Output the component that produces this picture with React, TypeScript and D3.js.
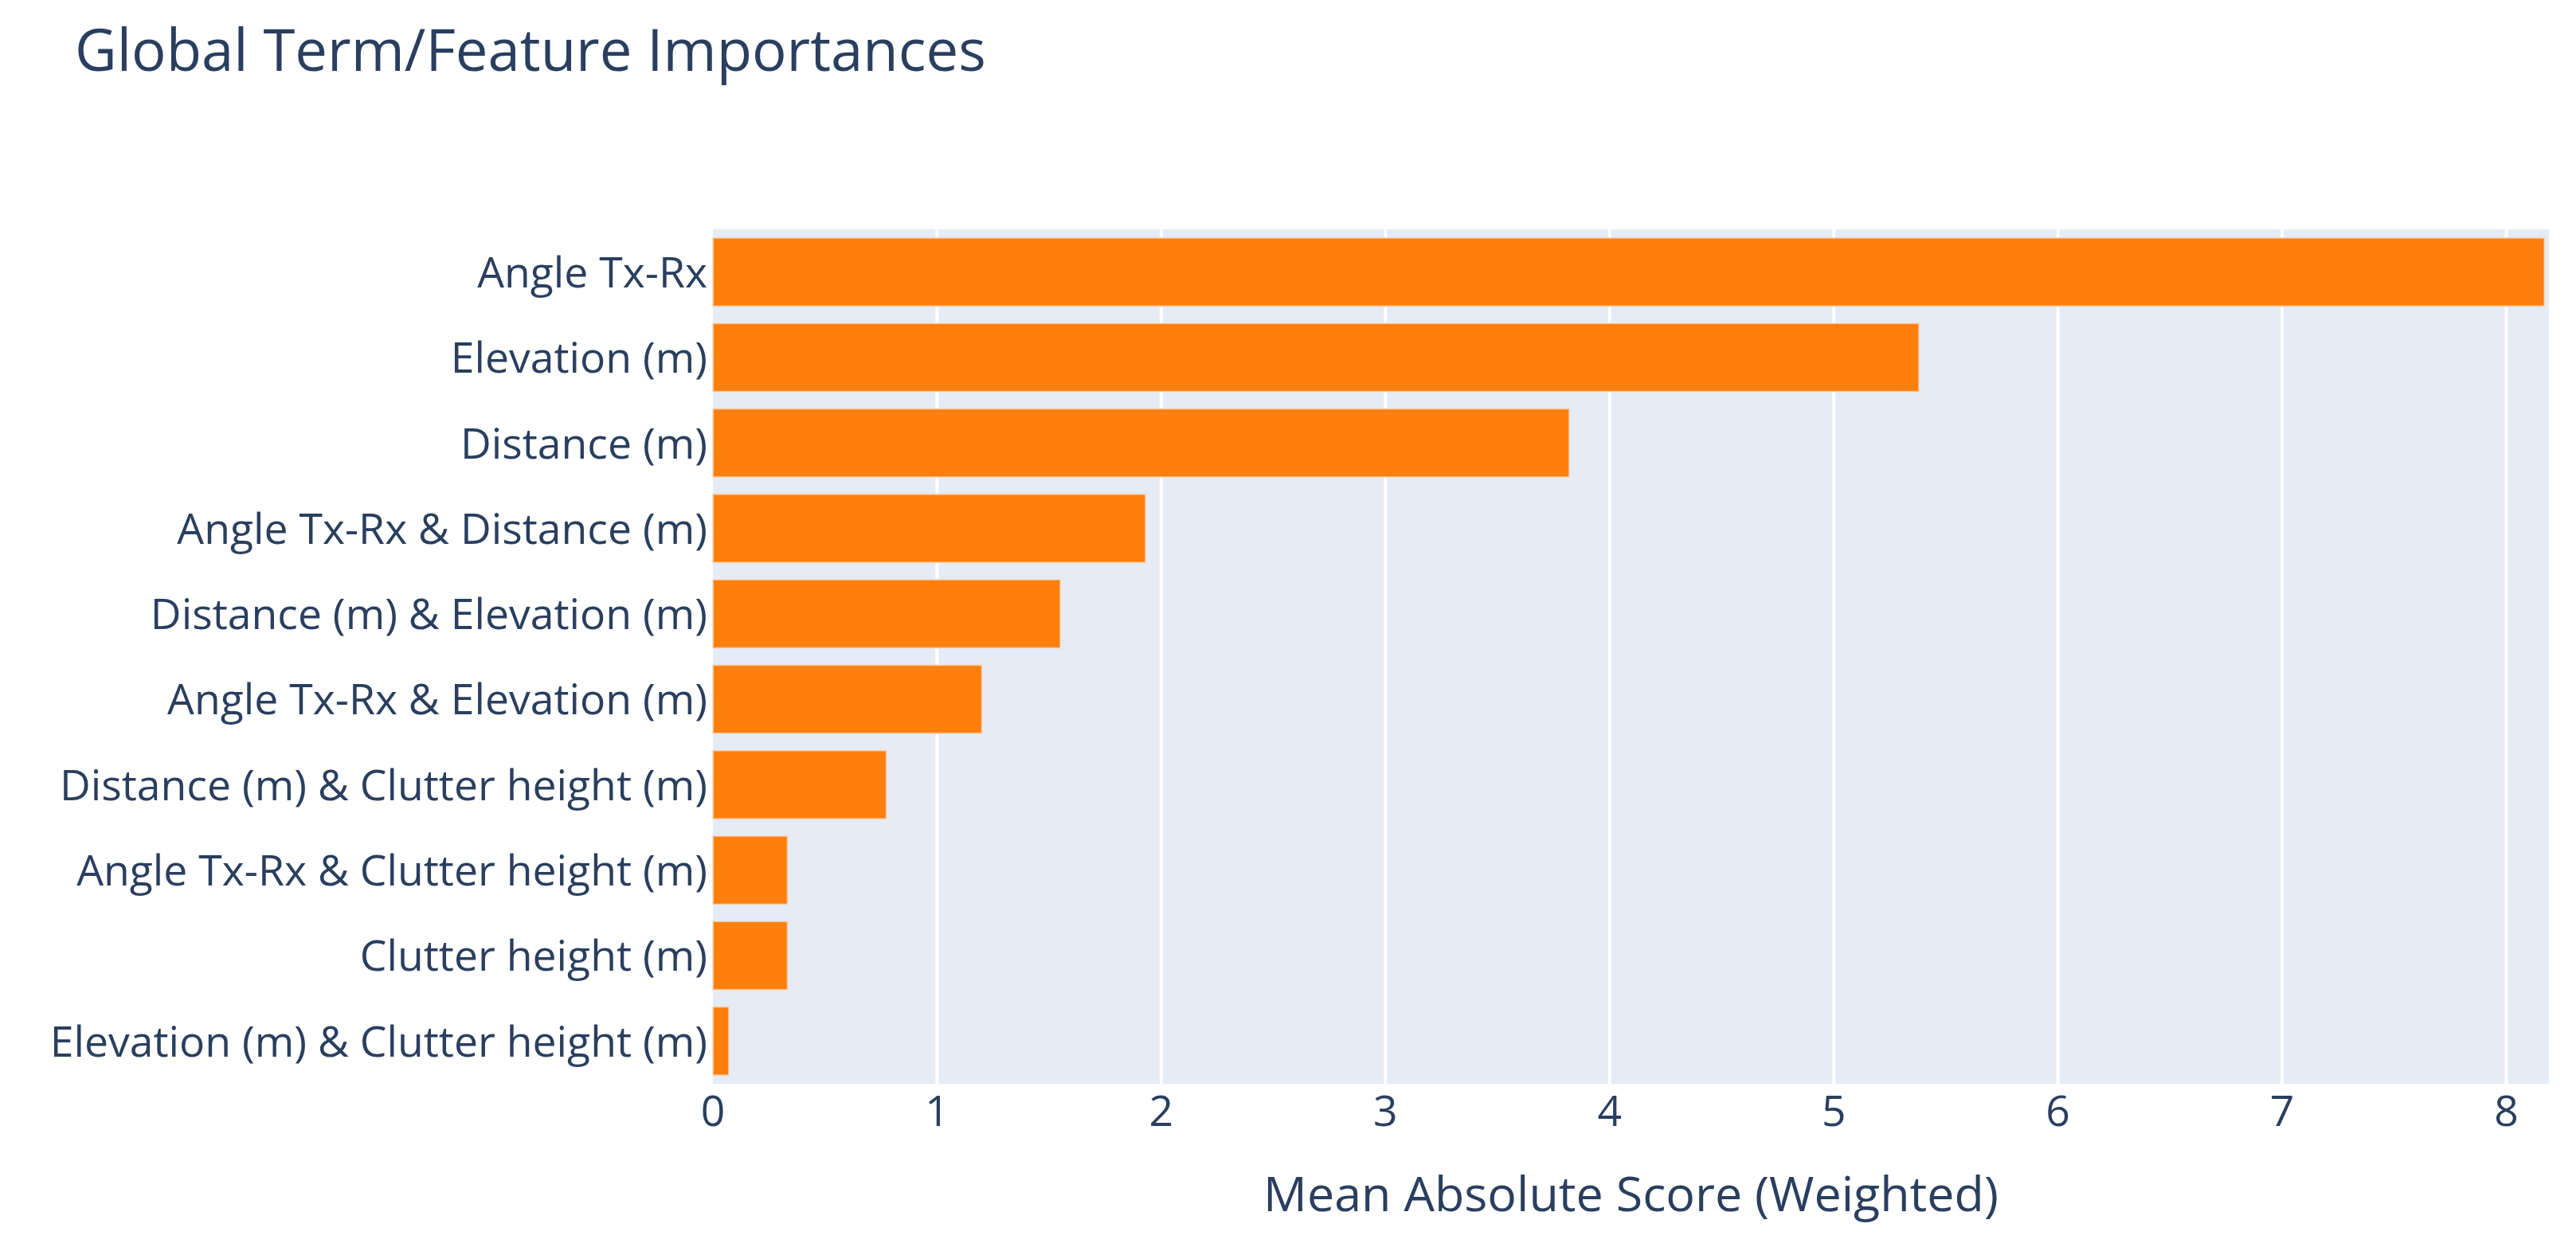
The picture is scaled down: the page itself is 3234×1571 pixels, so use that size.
import React from "react";
import * as d3 from "d3";

const categories: string[] = [
  "Angle Tx-Rx",
  "Elevation (m)",
  "Distance (m)",
  "Angle Tx-Rx & Distance (m)",
  "Distance (m) & Elevation (m)",
  "Angle Tx-Rx & Elevation (m)",
  "Distance (m) & Clutter height (m)",
  "Angle Tx-Rx & Clutter height (m)",
  "Clutter height (m)",
  "Elevation (m) & Clutter height (m)",
];
const values: number[] = [8.17, 5.38, 3.82, 1.93, 1.55, 1.2, 0.774, 0.333, 0.333, 0.071];
const xTicks: number[] = [0, 1, 2, 3, 4, 5, 6, 7, 8];
const xMax = 8.19;
const titleText = "Global Term/Feature Importances";
const xTitle = "Mean Absolute Score (Weighted)";

const W = 3234;
const H = 1571;
const plot = { left: 895, right: 3200, top: 288, bottom: 1361 };
const FONT = '"Open Sans", verdana, arial, sans-serif';
const TXT = "#2a3f5f";

export default function App() {
  const x = d3.scaleLinear().domain([0, xMax]).range([plot.left, plot.right]);
  const y = d3
    .scaleBand<string>()
    .domain(categories)
    .range([plot.top, plot.bottom])
    .paddingInner(0.2)
    .paddingOuter(0.1);

  return (
    <svg
      width={W}
      height={H}
      style={{ position: "absolute", left: 0, top: 0, background: "#fff" }}
      fontFamily={FONT}
    >
      <rect x={0} y={0} width={W} height={H} fill="#fff" />
      <rect
        x={plot.left}
        y={plot.top}
        width={plot.right - plot.left}
        height={plot.bottom - plot.top}
        fill="#E5ECF6"
      />
      {xTicks
        .filter((t) => t > 0)
        .map((t) => (
          <line
            key={"g" + t}
            x1={x(t)}
            x2={x(t)}
            y1={plot.top}
            y2={plot.bottom}
            stroke="#ffffff"
            strokeWidth={4}
          />
        ))}
      {categories.map((c, i) => (
        <rect
          key={"b" + c}
          x={x(0)}
          y={y(c)!}
          width={x(values[i]) - x(0)}
          height={y.bandwidth()}
          fill="#ff7f0e"
          stroke="#f3ddc9"
          strokeOpacity={0.7}
          strokeWidth={2}
        />
      ))}
      {categories.map((c) => (
        <text
          key={"l" + c}
          x={plot.left - 7}
          y={y(c)! + y.bandwidth() / 2}
          dy="0.36em"
          textAnchor="end"
          fontSize={53.5}
          fill={TXT}
        >
          {c}
        </text>
      ))}
      {xTicks.map((t) => (
        <text
          key={"t" + t}
          x={x(t)}
          y={1414}
          textAnchor="middle"
          fontSize={53.5}
          fill={TXT}
        >
          {t}
        </text>
      ))}
      <text x={(plot.left + plot.right) / 2} y={1521} textAnchor="middle" fontSize={61} fill={TXT}>
        {xTitle}
      </text>
      <text x={94} y={89} fontSize={72.5} fill={TXT}>
        {titleText}
      </text>
    </svg>
  );
}
